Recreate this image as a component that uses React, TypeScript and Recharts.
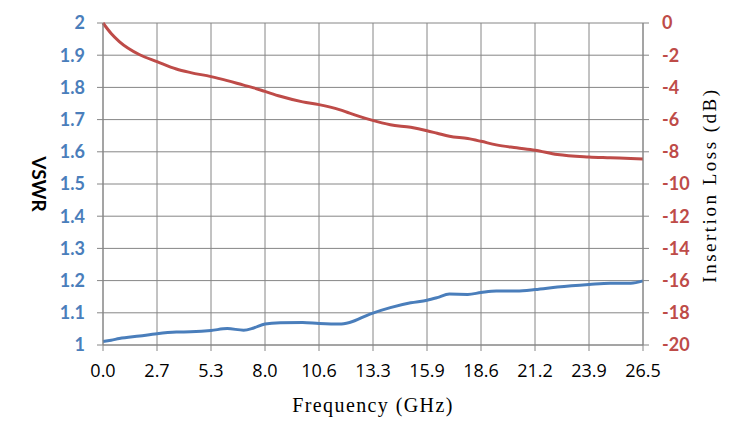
import React from "react";
import {
  LineChart,
  Line,
  XAxis,
  YAxis,
  CartesianGrid,
  Label,
} from "recharts";

const freqs = [
  0, 0.4, 0.8, 1.8, 2.65, 3.6, 4.3, 5.3, 6.1, 6.9, 7.4, 7.95, 8.7, 9.8, 10.6,
  11.6, 12.1, 13.1, 14.1, 15.1, 15.9, 16.4, 17.0, 17.9, 18.55, 19.3, 20.3, 21.2,
  22.3, 23.85, 24.9, 25.9, 26.5,
];
const vswr = [
  1.011, 1.015, 1.02, 1.028, 1.035, 1.04, 1.041, 1.045, 1.051, 1.046, 1.053,
  1.065, 1.069, 1.07, 1.067, 1.065, 1.07, 1.096, 1.116, 1.131, 1.139, 1.147,
  1.158, 1.157, 1.163, 1.168, 1.168, 1.172, 1.18, 1.188, 1.192, 1.192, 1.199,
];
const insertionLoss = [
  0, -0.65, -1.15, -1.97, -2.4, -2.86, -3.08, -3.33, -3.58, -3.86, -4.03, -4.25,
  -4.55, -4.9, -5.07, -5.38, -5.6, -6.0, -6.32, -6.48, -6.69, -6.85, -7.04,
  -7.18, -7.35, -7.57, -7.75, -7.9, -8.17, -8.32, -8.37, -8.42, -8.45,
];

const xTicks = [0, 2.65, 5.3, 7.95, 10.6, 13.25, 15.9, 18.55, 21.2, 23.85, 26.5];
const xTickLabels = ["0.0", "2.7", "5.3", "8.0", "10.6", "13.3", "15.9", "18.6", "21.2", "23.9", "26.5"];
const vswrTicks = [1, 1.1, 1.2, 1.3, 1.4, 1.5, 1.6, 1.7, 1.8, 1.9, 2];
const vswrTickLabels = ["1", "1.1", "1.2", "1.3", "1.4", "1.5", "1.6", "1.7", "1.8", "1.9", "2"];
const lossTicks = [-20, -18, -16, -14, -12, -10, -8, -6, -4, -2, 0];

const data = freqs.map((f, i) => ({ freq: f, vswr: vswr[i], loss: insertionLoss[i] }));

const BLUE = "#4A7EBB";
const RED = "#BE4B48";
const GRID = "#868686";
const TICK_FONT = "Lato, 'Open Sans', sans-serif";
const TITLE_FONT = "'Liberation Serif', serif";

const App = () => {
  return (
    <div style={{ position: "absolute", left: 0, top: 0 }}>
      <LineChart
        width={749}
        height={444}
        data={data}
        margin={{ top: 23, right: 0, bottom: 0, left: 0 }}
      >
        <CartesianGrid yAxisId="left" stroke={GRID} strokeWidth={1} />
        <XAxis
          dataKey="freq"
          type="number"
          domain={[0, 26.5]}
          ticks={xTicks}
          interval={0}
          height={99}
          tickSize={6}
          tickMargin={13}
          stroke={GRID}
          tickFormatter={(v: number) => xTickLabels[xTicks.indexOf(v)] ?? ""}
          tick={{ fill: "#000", fontSize: 18, fontFamily: "'Open Sans', sans-serif" }}
        >
          <Label
            content={() => (
              <text
                x={373}
                y={412}
                textAnchor="middle"
                fontFamily={TITLE_FONT}
                fontSize={20}
                letterSpacing={1.4}
                fill="#000"
              >
                Frequency (GHz)
              </text>
            )}
          />
        </XAxis>
        <YAxis
          yAxisId="left"
          orientation="left"
          domain={[1, 2]}
          ticks={vswrTicks}
          interval={0}
          width={103}
          tickSize={6}
          tickMargin={12}
          stroke={GRID}
          tickFormatter={(v: number) => vswrTickLabels[vswrTicks.indexOf(v)] ?? String(v)}
          tick={{ fill: BLUE, fontSize: 18, fontWeight: 700, fontFamily: TICK_FONT }}
        >
          <Label
            content={() => (
              <text
                x={32}
                y={184}
                transform="rotate(90 32 184)"
                textAnchor="middle"
                fontFamily={TICK_FONT}
                fontWeight={700}
                fontSize={19}
                fill="#000"
              >
                VSWR
              </text>
            )}
          />
        </YAxis>
        <YAxis
          yAxisId="right"
          orientation="right"
          domain={[-20, 0]}
          ticks={lossTicks}
          interval={0}
          width={106}
          tickSize={6}
          tickMargin={13}
          stroke={GRID}
          tick={{ fill: RED, fontSize: 18, fontWeight: 700, fontFamily: TICK_FONT }}
        >
          <Label
            content={() => (
              <text
                x={716}
                y={185}
                transform="rotate(-90 716 185)"
                textAnchor="middle"
                fontFamily={TITLE_FONT}
                fontSize={19}
                letterSpacing={2.5}
                fill="#000"
              >
                Insertion Loss (dB)
              </text>
            )}
          />
        </YAxis>
        <Line
          yAxisId="left"
          type="monotone"
          dataKey="vswr"
          stroke={BLUE}
          strokeWidth={3}
          dot={false}
          isAnimationActive={false}
        />
        <Line
          yAxisId="right"
          type="monotone"
          dataKey="loss"
          stroke={RED}
          strokeWidth={3}
          dot={false}
          isAnimationActive={false}
        />
      </LineChart>
    </div>
  );
};

export default App;
